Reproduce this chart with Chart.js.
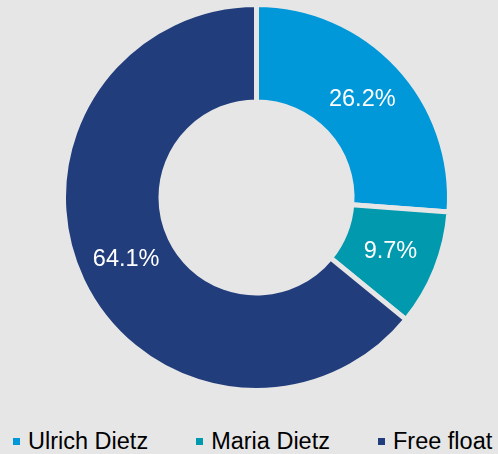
<!DOCTYPE html>
<html>
<head>
<meta charset="utf-8">
<script src="https://cdn.jsdelivr.net/npm/chart.js@4/dist/chart.umd.min.js"></script>
<style>
  html, body { margin: 0; padding: 0; background: #e6e6e6; }
  #wrap { width: 498px; height: 454px; position: relative; font-family: Arial, "Liberation Sans", sans-serif; }
  #legend { position: absolute; left: 13px; top: 427px; display: flex; gap: 48px; font-size: 23.5px; color: #000; }
  .item { display: flex; align-items: center; white-space: nowrap; line-height: 28px; }
  .box { width: 7px; height: 7px; margin-right: 8px; }
</style>
</head>
<body>
<div id="wrap">
  <canvas id="chart" width="498" height="395"></canvas>
  <div id="legend"></div>
</div>
<script>
const labels = ["Ulrich Dietz", "Maria Dietz", "Free float"]
const shares = [26.2, 9.7, 64.1]
const colors = ["#0098d8", "#0099ae", "#223d7c"]

const sliceLabels = {
  id: "sliceLabels",
  afterDatasetsDraw(chart) {
    const ctx = chart.ctx
    const meta = chart.getDatasetMeta(0)
    ctx.save()
    ctx.fillStyle = "#ffffff"
    ctx.font = "23.5px Arial, 'Liberation Sans', sans-serif"
    ctx.textAlign = "center"
    ctx.textBaseline = "middle"
    meta.data.forEach((arc, i) => {
      const p = arc.tooltipPosition()
      ctx.fillText(shares[i].toFixed(1) + "%", p.x, p.y)
    })
    ctx.restore()
  },
}

const chart = new Chart(document.getElementById("chart"), {
  type: "doughnut",
  data: {
    labels: labels,
    datasets: [
      {
        data: shares,
        backgroundColor: colors,
        borderColor: "#e6e6e6",
        borderWidth: 5,
      },
    ],
  },
  options: {
    responsive: false,
    animation: false,
    cutout: "49.5%",
    layout: { padding: { left: 15, top: 2, bottom: 2, right: 0 } },
    plugins: {
      legend: { display: false },
      tooltip: { enabled: false },
    },
  },
  plugins: [sliceLabels],
})

const legend = document.getElementById("legend")
labels.forEach((name, i) => {
  const item = document.createElement("div")
  item.className = "item"
  const box = document.createElement("span")
  box.className = "box"
  box.style.background = colors[i]
  item.appendChild(box)
  item.appendChild(document.createTextNode(name))
  legend.appendChild(item)
})
</script>
</body>
</html>
